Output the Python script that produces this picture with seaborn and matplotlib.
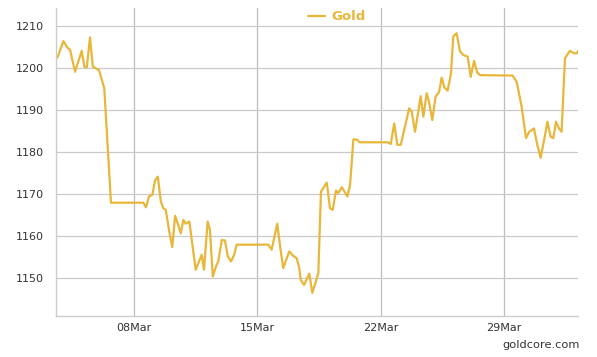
import numpy as np
import pandas as pd
import matplotlib
matplotlib.use("Agg")
import matplotlib.pyplot as plt
import matplotlib.dates as mdates
import seaborn as sns

# gold price, March (day of month as float)
days = [3.52, 3.65, 3.99, 4.21, 4.37, 4.65, 5.03, 5.18, 5.32, 5.50, 5.66, 6.01, 6.31, 6.69,
        8.53, 8.68, 8.85, 9.04, 9.19, 9.35, 9.52, 9.66, 9.80, 10.00, 10.17, 10.33, 10.51, 10.65,
        10.80, 10.93, 11.14, 11.50, 11.84, 11.97, 12.18, 12.31, 12.47, 12.65, 12.78, 12.98, 13.16,
        13.32, 13.51, 13.68, 13.83,
        15.62, 15.81, 16.13, 16.29, 16.47, 16.81, 17.04, 17.23, 17.38, 17.46, 17.65, 17.95, 18.12,
        18.46, 18.61, 18.94, 19.12, 19.28, 19.46, 19.59, 19.79, 20.11, 20.26, 20.45, 20.67, 20.79,
        22.40, 22.57, 22.77, 22.94, 23.14, 23.62, 23.76, 23.95, 24.27, 24.42, 24.61, 24.74, 24.93,
        25.12, 25.31, 25.46, 25.61, 25.80, 25.99, 26.12, 26.31, 26.50, 26.69, 26.94, 27.11, 27.30,
        27.48, 27.64,
        29.49, 29.72, 30.00, 30.25, 30.43, 30.70, 30.89, 31.08, 31.33, 31.46, 31.65, 31.80, 31.95,
        32.12, 32.27, 32.46, 32.74, 32.97, 33.12, 33.31]
gold = [1203.1, 1202.5, 1206.4, 1204.9, 1204.3, 1199.1, 1204.1, 1200.3, 1200.2, 1207.3, 1200.3,
        1199.5, 1195.2, 1167.9,
        1167.9, 1166.8, 1169.4, 1169.8, 1173.2, 1174.1, 1168.2, 1166.6, 1166.2, 1161.0, 1157.3,
        1164.8, 1162.6, 1160.6, 1163.8, 1162.9, 1163.4, 1151.9, 1155.5, 1151.9, 1163.4, 1161.4,
        1150.3, 1152.7, 1153.9, 1159.0, 1158.9, 1155.1, 1153.9, 1155.5, 1157.9,
        1157.9, 1156.7, 1162.9, 1157.5, 1152.3, 1156.3, 1155.2, 1154.7, 1152.3, 1149.5, 1148.3,
        1151.0, 1146.4, 1151.1, 1170.5, 1172.7, 1166.6, 1166.2, 1170.8, 1170.2, 1171.6, 1169.4,
        1172.1, 1183.0, 1182.9, 1182.3,
        1182.3, 1181.9, 1186.8, 1181.7, 1181.7, 1190.4, 1189.6, 1184.8, 1193.3, 1188.4, 1194.0,
        1192.0, 1187.6, 1193.2, 1194.2, 1197.7, 1195.4, 1194.6, 1198.7, 1207.5, 1208.3, 1204.0,
        1203.1, 1202.7, 1197.9, 1201.7, 1198.9, 1198.3,
        1198.2, 1196.7, 1190.8, 1183.3, 1184.8, 1185.6, 1181.7, 1178.6, 1184.0, 1187.2, 1183.6,
        1183.3, 1187.2, 1185.6, 1184.8, 1202.3, 1204.1, 1203.5, 1203.5, 1204.7]
y_ticks = [1150, 1160, 1170, 1180, 1190, 1200, 1210]
x_tick_days = [8, 15, 22, 29]

GOLD_COLOR = "#E8B73A"
base = pd.Timestamp("2015-03-01")


def to_date(d):
    return base + pd.to_timedelta(np.asarray(d, dtype=float) - 1, unit="D")


df = pd.DataFrame({"date": to_date(days), "price": gold})

sns.set_style("white")
plt.rcParams["font.family"] = ["DejaVu Sans"]

fig = plt.figure(figsize=(5.97, 3.57), dpi=100)
ax = fig.add_axes([56 / 597, 1 - 316 / 357, 522 / 597, 308 / 357])

sns.lineplot(data=df, x="date", y="price", ax=ax, color=GOLD_COLOR,
             linewidth=1.6, label="Gold")

ax.set_xlim(to_date(3.57), to_date(33.2))
ax.set_ylim(1140.9, 1214.3)
ax.set_yticks(y_ticks)
ax.set_xticks(to_date(x_tick_days))
ax.xaxis.set_major_formatter(mdates.DateFormatter("%d%b"))

ax.grid(True, axis="y", color="#CACACA", linewidth=0.9)
ax.grid(True, axis="x", color="#BDBDBD", linewidth=0.9)
ax.set_axisbelow(True)
ax.set_xlabel("")
ax.set_ylabel("")
ax.tick_params(length=0, labelsize=8, labelcolor="#333333")
ax.tick_params(axis="y", pad=9)
ax.tick_params(axis="x", pad=5)

for side in ["top", "right"]:
    ax.spines[side].set_visible(False)
for side in ["left", "bottom"]:
    ax.spines[side].set_color("#CCCCCC")
    ax.spines[side].set_linewidth(1.0)

leg = ax.legend(loc="center", bbox_to_anchor=(0.538, 0.972), frameon=False,
                handlelength=1.3, handletextpad=0.5, fontsize=9.5)
for txt in leg.get_texts():
    txt.set_color(GOLD_COLOR)
    txt.set_fontweight("bold")

fig.text(580 / 597, 1 - 345 / 357, "goldcore.com", ha="right", va="center",
         fontsize=8.2, color="#333333")

fig.savefig("out.png", dpi=100)
